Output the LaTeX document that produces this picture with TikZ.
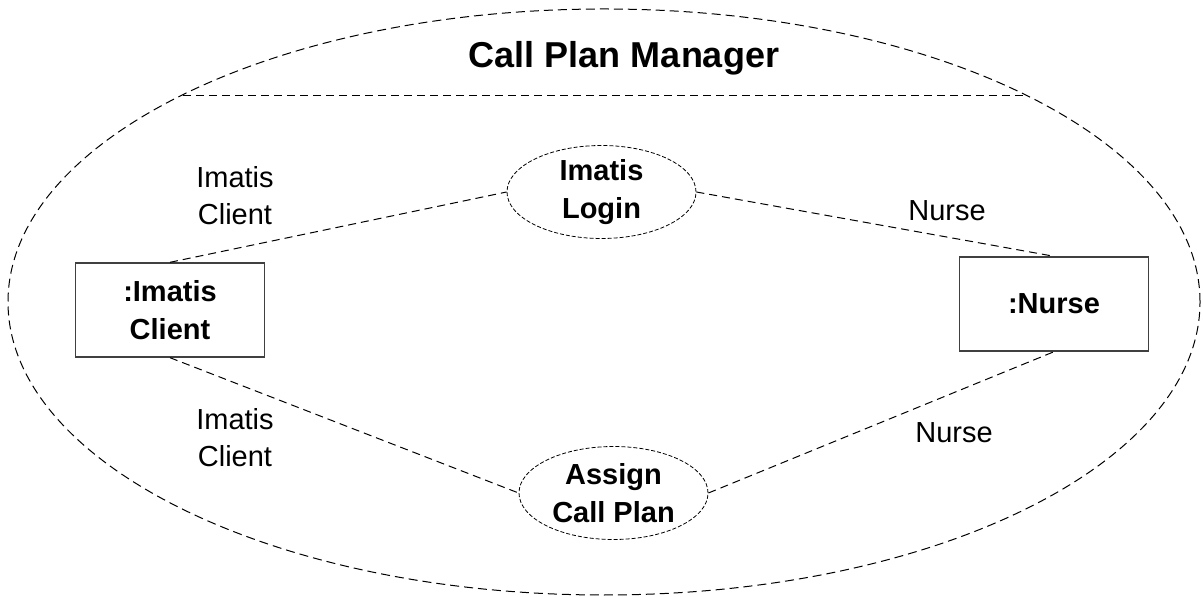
\documentclass[tikz,border=0pt]{standalone}
\usepackage{fontspec}
\setmainfont{Liberation Sans}
\usetikzlibrary{shapes.geometric}

\begin{document}
\begin{tikzpicture}[x=0.5pt, y=-0.5pt,
    usecase/.style={ellipse, draw, dash pattern=on 2pt off 1pt, line width=0.4pt, minimum width=94.5pt, minimum height=46.5pt, inner sep=0pt, align=center, font=\fontsize{14.5}{19}\selectfont\bfseries},
    objbox/.style={rectangle, draw=black!75, line width=0.7pt, minimum width=94.5pt, minimum height=47pt, align=center, font=\fontsize{14.5}{19}\selectfont\bfseries},
    rolelabel/.style={align=center, font=\fontsize{14.5}{18.5}\selectfont},
    link/.style={dash pattern=on 4pt off 2.5pt, line width=0.5pt},]
    \useasboundingbox (0,0) rectangle (1203,597);
    % collaboration
    \node[ellipse, draw, dash pattern=on 4.5pt off 2.5pt, line width=0.5pt, minimum width=596pt, minimum height=293pt, inner sep=0pt] (mgr) at (604,302) {};
    \node[anchor=base, font=\fontsize{18}{21}\selectfont\bfseries] (title) at (624,68) {Call Plan Manager};
    \coordinate (divl) at (183,96);
    \coordinate (divr) at (1027,96);
    \draw[link] (divl) -- (divr);
    % nodes
    \node[objbox]     (client)    at (170,310)     {:Imatis\\Client};
    \node[objbox]     (nurse)     at (1054,304)    {:Nurse};
    \node[usecase]    (login)     at (601.5,192)   {Imatis\\Login};
    \node[usecase]    (assign)    at (613.5,493)   {Assign\\Call Plan};
    % lines
    \draw[link] (client.north) -- (login.west);
    \draw[link] (login.east) -- (nurse.north);
    \draw[link] (client.south) -- (assign.west);
    \draw[link] (assign.east) -- (nurse.south);
    % role labels
    \node[rolelabel]  (role1)     at (235,196)     {Imatis\\Client};
    \node[rolelabel]  (role2)     at (947,211)     {Nurse};
    \node[rolelabel]  (role3)     at (235,438)     {Imatis\\Client};
    \node[rolelabel]  (role4)     at (954,433)     {Nurse};
\end{tikzpicture}
\end{document}
